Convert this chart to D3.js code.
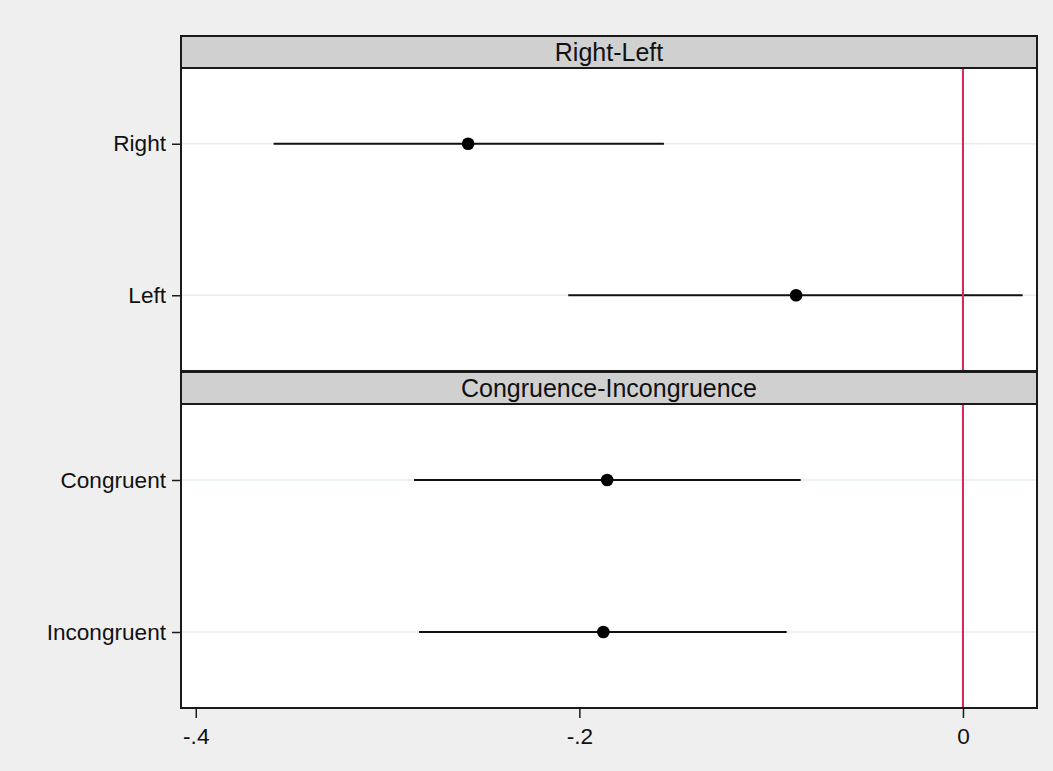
<!DOCTYPE html>
<html>
<head>
<meta charset="utf-8">
<script src="https://cdn.jsdelivr.net/npm/d3@7"></script>
<style>
  html, body { margin: 0; padding: 0; background: #efefef; }
  svg { display: block; }
  text { font-family: "Liberation Sans", Arial, sans-serif; fill: #111; }
</style>
</head>
<body>
<svg id="chart" width="1053" height="771"></svg>
<script>
// ---- data ----
const panelTitles = ["Right-Left", "Congruence-Incongruence"];
const panelCategories = [["Right", "Left"], ["Congruent", "Incongruent"]];
const categories = ["Right", "Left", "Congruent", "Incongruent"];
const estimates = [-0.258, -0.087, -0.1855, -0.1875];
const lowerCI   = [-0.3594, -0.2058, -0.2862, -0.2836];
const upperCI   = [-0.1559, 0.0311, -0.0846, -0.0919];
const xTickValues = [-0.4, -0.2, 0];
const xTickLabels = ["-.4", "-.2", "0"];
const refLineValue = 0;

// ---- layout ----
const W = 1053, H = 771;
const left = 181, right = 1037;
const panels = [
  { headTop: 36, headBottom: 68, plotBottom: 371 },
  { headTop: 372, headBottom: 404, plotBottom: 708 }
];

const svg = d3.select("#chart");
svg.append("rect").attr("x", 0).attr("y", 0).attr("width", W).attr("height", H).attr("fill", "#efefef");

const x = d3.scaleLinear().domain([-0.4077, 0.0386]).range([left, right]);
const fmt = d => xTickLabels[xTickValues.indexOf(d)];

panels.forEach((p, i) => {
  const cats = panelCategories[i];
  const g = svg.append("g");
  const y = d3.scalePoint().domain(cats).range([p.headBottom, p.plotBottom]).padding(0.5);

  // header strip
  g.append("rect")
    .attr("x", left).attr("y", p.headTop)
    .attr("width", right - left).attr("height", p.headBottom - p.headTop)
    .attr("fill", "#d0d0d0").attr("stroke", "#1a1a1a").attr("stroke-width", 2);
  g.append("text")
    .attr("x", (left + right) / 2).attr("y", p.headTop + 24.5)
    .attr("text-anchor", "middle")
    .style("font-size", "25px")
    .text(panelTitles[i]);

  // plot area
  g.append("rect")
    .attr("x", left).attr("y", p.headBottom)
    .attr("width", right - left).attr("height", p.plotBottom - p.headBottom)
    .attr("fill", "#ffffff");

  // gridlines
  g.selectAll(".grid").data(cats).join("line")
    .attr("x1", left).attr("x2", right)
    .attr("y1", d => y(d)).attr("y2", d => y(d))
    .attr("stroke", "#e6eef0").attr("stroke-width", 1.5);

  // CI lines
  const rows = cats.map(c => {
    const k = categories.indexOf(c);
    return { cat: c, est: estimates[k], lo: lowerCI[k], hi: upperCI[k] };
  });
  g.selectAll(".ci").data(rows).join("line")
    .attr("x1", d => x(d.lo)).attr("x2", d => x(d.hi))
    .attr("y1", d => y(d.cat)).attr("y2", d => y(d.cat))
    .attr("stroke", "#111").attr("stroke-width", 2.2);

  // reference line
  g.append("line")
    .attr("x1", x(refLineValue)).attr("x2", x(refLineValue))
    .attr("y1", p.headBottom).attr("y2", p.plotBottom)
    .attr("stroke", "#d6265a").attr("stroke-width", 2);

  // points
  g.selectAll(".pt").data(rows).join("circle")
    .attr("cx", d => x(d.est)).attr("cy", d => y(d.cat))
    .attr("r", 6.3).attr("fill", "#000");

  // plot border
  g.append("rect")
    .attr("x", left).attr("y", p.headBottom)
    .attr("width", right - left).attr("height", p.plotBottom - p.headBottom)
    .attr("fill", "none").attr("stroke", "#1a1a1a").attr("stroke-width", 2);

  // y axis
  const ya = g.append("g").attr("transform", `translate(${left - 1},0)`)
    .call(d3.axisLeft(y).tickSize(8).tickPadding(6));
  ya.select(".domain").remove();
  ya.selectAll(".tick line").attr("stroke", "#1a1a1a").attr("stroke-width", 1.5);
  ya.selectAll(".tick text").style("font-size", "22.6px").attr("fill", "#111")
    .style("font-family", '"Liberation Sans", Arial, sans-serif');

  if (i === panels.length - 1) {
    const xa = g.append("g").attr("transform", `translate(0,${p.plotBottom + 1})`)
      .call(d3.axisBottom(x).tickValues(xTickValues).tickFormat(fmt).tickSize(9).tickPadding(10));
    xa.select(".domain").remove();
    xa.selectAll(".tick line").attr("stroke", "#1a1a1a").attr("stroke-width", 1.5);
    xa.selectAll(".tick text").style("font-size", "22.6px").attr("fill", "#111")
      .style("font-family", '"Liberation Sans", Arial, sans-serif');
  }
});
</script>
</body>
</html>
